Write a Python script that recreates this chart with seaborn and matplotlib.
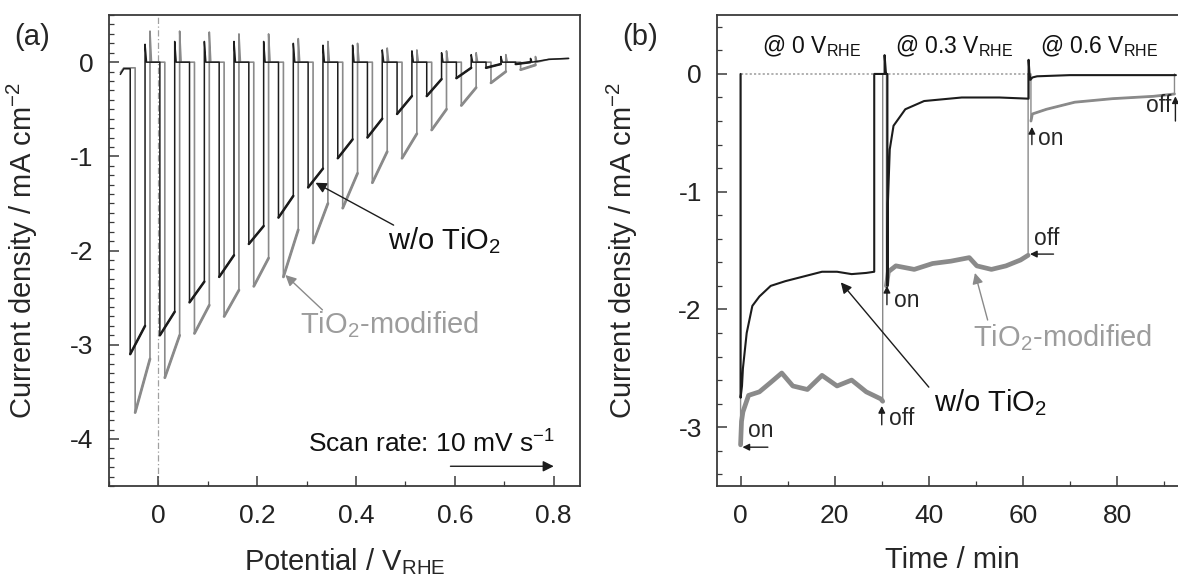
import matplotlib
matplotlib.use("Agg")
import matplotlib.pyplot as plt
from matplotlib.ticker import MultipleLocator, FixedLocator, FixedFormatter
import pandas as pd
import seaborn as sns

# ---------------- panel (a): chopped-light LSV ----------------
pulse_on_v = [-0.057, 0.003, 0.063, 0.123, 0.183, 0.243, 0.303, 0.363,
              0.423, 0.483, 0.543, 0.603, 0.663, 0.723]
light_len_v = 0.030
gray_shift_v = 0.010
black_on_j = [-3.10, -2.90, -2.55, -2.28, -1.93, -1.65, -1.33, -1.02,
              -0.80, -0.55, -0.36, -0.17, -0.06, -0.02]
black_off_j = [-2.80, -2.65, -2.33, -2.05, -1.74, -1.42, -1.13, -0.82,
               -0.60, -0.36, -0.18, -0.06, -0.02, 0.00]
gray_on_j = [-3.72, -3.35, -2.88, -2.70, -2.38, -2.28, -1.92, -1.55,
             -1.28, -1.02, -0.72, -0.46, -0.22, -0.08]
gray_off_j = [-3.15, -2.90, -2.58, -2.42, -2.08, -1.78, -1.50, -1.18,
              -0.95, -0.76, -0.50, -0.27, -0.10, -0.03]
black_spike_j = [0.19, 0.22, 0.22, 0.22, 0.22, 0.20, 0.18, 0.18,
                 0.13, 0.12, 0.10, 0.08, 0.06, 0.04]
gray_spike_j = [0.33, 0.33, 0.32, 0.30, 0.30, 0.25, 0.22, 0.20,
                0.15, 0.13, 0.12, 0.10, 0.08, 0.06]
lead_v = [-0.077, -0.070]
black_lead_j = [-0.13, -0.07]
gray_lead_j = [-0.11, -0.06]
tail_v = [0.79, 0.83]
tail_j = [0.03, 0.04]
dark_j = 0.0
xticks_a = [0, 0.2, 0.4, 0.6, 0.8]
xticklabels_a = ["0", "0.2", "0.4", "0.6", "0.8"]
yticks_a = [0, -1, -2, -3, -4]
yticklabels_a = ["0", "-1", "-2", "-3", "-4"]

# ---------------- panel (b): chronoamperometry ----------------
black_t = [0, 0, 0.3, 0.5, 1.3, 2.5, 4, 6.4, 9.5, 13.4, 17.3, 20.5, 23.6, 26.7, 28.4,
           28.4, 30.6, 30.6, 30.9, 31.2,
           31.2, 31.3, 31.7, 32.5, 35, 39, 47, 55, 61.2,
           61.2, 61.4, 61.6, 62.0, 63, 70, 92.5]
black_j = [0, -2.75, -2.65, -2.5, -2.2, -1.97, -1.89, -1.80, -1.76, -1.72, -1.68, -1.68, -1.70, -1.69, -1.68,
           0.0, 0.0, 0.16, 0.0, 0.0,
           -1.80, -1.10, -0.64, -0.44, -0.30, -0.23, -0.20, -0.20, -0.21,
           0.12, 0.0, -0.05, -0.03, -0.02, -0.01, -0.01]
gray_t_0 = [0, 0.2, 0.5, 1.7, 4, 6.4, 8.75, 11.1, 14.2, 17.3, 20.5, 23.6, 26.7, 29.8, 30.2]
gray_j_0 = [-3.15, -2.95, -2.87, -2.73, -2.70, -2.62, -2.54, -2.65, -2.68, -2.56, -2.65,
            -2.60, -2.70, -2.76, -2.78]
gray_t_03 = [31.0, 31.4, 33, 36.9, 40.8, 44.7, 48.6, 50.2, 53.3, 56.4, 59.5, 61.1]
gray_j_03 = [-1.80, -1.68, -1.63, -1.66, -1.61, -1.59, -1.56, -1.63, -1.66, -1.63, -1.58, -1.54]
gray_t_06 = [61.7, 62, 65, 71, 79, 87.7, 92.2]
gray_j_06 = [-0.40, -0.34, -0.30, -0.24, -0.21, -0.19, -0.17]
xticks_b = [0, 20, 40, 60, 80]
yticks_b = [0, -1, -2, -3]
yticklabels_b = ["0", "-1", "-2", "-3"]
potential_labels = ["@ 0 V$_{RHE}$", "@ 0.3 V$_{RHE}$", "@ 0.6 V$_{RHE}$"]
potential_label_t = [15.1, 45.3, 76.2]

BLACK = "#1c1c1c"
GRAY = "#8a8a8a"
TGRAY = "#9c9c9c"
SPINE = "#3a3a3a"

sns.set_theme(style="ticks")
plt.rcParams.update({
    "font.family": ["Liberation Sans", "DejaVu Sans"],
    "mathtext.default": "regular",
    "axes.unicode_minus": False,
    "axes.edgecolor": SPINE,
    "axes.linewidth": 1.3,
    "xtick.direction": "in",
    "ytick.direction": "in",
    "xtick.color": SPINE,
    "ytick.color": SPINE,
    "xtick.labelcolor": "#222222",
    "ytick.labelcolor": "#222222",
})


def chop_trace(shift, on_j, off_j, spike_j, lead_j):
    v, j = list(lead_v), list(lead_j)
    light_rows = []
    for k, von in enumerate(pulse_on_v):
        a = von + shift
        b = a + light_len_v
        before = lead_j[-1] if k == 0 else dark_j
        v += [a, a, b, b, b + 0.003]
        j += [before, on_j[k], off_j[k], spike_j[k], dark_j]
        light_rows += [(a, on_j[k], k), (b, off_j[k], k)]
    v += tail_v
    j += tail_j
    full = pd.DataFrame({"V": v, "J": j})
    light = pd.DataFrame(light_rows, columns=["V", "J", "seg"])
    return full, light


fig = plt.figure(figsize=(11.78, 5.8), dpi=100)
ax_a = fig.add_axes([0.0925, 0.162, 0.3998, 0.812])
ax_b = fig.add_axes([0.6087, 0.162, 0.3935, 0.812])

# ---- panel (a) ----
ax_a.axvline(0, color="#a0a0a0", lw=0.9, ls=(0, (5, 2, 1, 2)), zorder=0)
g_full, g_light = chop_trace(gray_shift_v, gray_on_j, gray_off_j, gray_spike_j, gray_lead_j)
b_full, b_light = chop_trace(0.0, black_on_j, black_off_j, black_spike_j, black_lead_j)
sns.lineplot(data=g_full, x="V", y="J", sort=False, estimator=None, ax=ax_a, color=GRAY, lw=1.2)
sns.lineplot(data=g_light, x="V", y="J", units="seg", sort=False, estimator=None, ax=ax_a,
             color=GRAY, lw=2.0)
sns.lineplot(data=b_full, x="V", y="J", sort=False, estimator=None, ax=ax_a, color=BLACK, lw=1.1)
sns.lineplot(data=b_light, x="V", y="J", units="seg", sort=False, estimator=None, ax=ax_a,
             color=BLACK, lw=1.8)

ax_a.set_xlim(-0.1, 0.853)
ax_a.set_ylim(-4.5, 0.5)
ax_a.xaxis.set_major_locator(FixedLocator(xticks_a))
ax_a.xaxis.set_major_formatter(FixedFormatter(xticklabels_a))
ax_a.xaxis.set_minor_locator(MultipleLocator(0.1))
ax_a.yaxis.set_major_locator(FixedLocator(yticks_a))
ax_a.yaxis.set_major_formatter(FixedFormatter(yticklabels_a))
ax_a.yaxis.set_minor_locator(MultipleLocator(0.1))
ax_a.set_xlabel("Potential / V$_{RHE}$", fontsize=21)
ax_a.set_ylabel("Current density / mA cm$^{-2}$", fontsize=21)

ax_a.annotate("", xy=(0.318, -1.28), xytext=(0.476, -1.73),
              arrowprops=dict(arrowstyle="-|>", color=BLACK, lw=1.0, mutation_scale=16,
                              shrinkA=0, shrinkB=0))
ax_a.text(0.465, -1.89, "w/o TiO$_2$", fontsize=21, color="#111111", va="center", ha="left")
ax_a.annotate("", xy=(0.257, -2.26), xytext=(0.332, -2.63),
              arrowprops=dict(arrowstyle="-|>", color=GRAY, lw=1.0, mutation_scale=16,
                              shrinkA=0, shrinkB=0))
ax_a.text(0.287, -2.79, "TiO$_2$-modified", fontsize=21, color=TGRAY, va="center", ha="left")
ax_a.text(0.302, -4.05, "Scan rate: 10 mV s$^{-1}$", fontsize=19, color="#111111",
          va="center", ha="left")
ax_a.annotate("", xy=(0.80, -4.29), xytext=(0.591, -4.29),
              arrowprops=dict(arrowstyle="-|>", color=BLACK, lw=1.0, mutation_scale=16,
                              shrinkA=0, shrinkB=0))

# ---- panel (b) ----
ax_b.plot([0, 61.5], [0, 0], color="#aaaaaa", lw=1.3, ls=(0, (1.2, 1.2)), zorder=0)
gray_t = [0] + gray_t_0 + [30.2] + [31.0] + gray_t_03 + [61.1] + [61.7] + gray_t_06 + [92.2]
gray_j = [0] + gray_j_0 + [0.0] + [0.0] + gray_j_03 + [0.0] + [0.0] + gray_j_06 + [0.0]
sns.lineplot(x=gray_t, y=gray_j, sort=False, estimator=None, ax=ax_b, color=GRAY, lw=1.0)
seg_df = pd.DataFrame({
    "t": gray_t_0 + gray_t_03 + gray_t_06,
    "J": gray_j_0 + gray_j_03 + gray_j_06,
    "seg": [0] * len(gray_t_0) + [1] * len(gray_t_03) + [2] * len(gray_t_06),
})
sns.lineplot(data=seg_df[seg_df.seg < 2], x="t", y="J", units="seg", sort=False,
             estimator=None, ax=ax_b, color=GRAY, lw=3.4)
sns.lineplot(data=seg_df[seg_df.seg == 2], x="t", y="J", sort=False,
             estimator=None, ax=ax_b, color=GRAY, lw=2.0)
sns.lineplot(x=black_t, y=black_j, sort=False, estimator=None, ax=ax_b, color=BLACK, lw=1.5)

ax_b.set_xlim(-5, 93.5)
ax_b.set_ylim(-3.5, 0.5)
ax_b.xaxis.set_major_locator(FixedLocator(xticks_b))
ax_b.xaxis.set_minor_locator(MultipleLocator(10))
ax_b.yaxis.set_major_locator(FixedLocator(yticks_b))
ax_b.yaxis.set_major_formatter(FixedFormatter(yticklabels_b))
ax_b.yaxis.set_minor_locator(MultipleLocator(0.2))
ax_b.set_xlabel("Time / min", fontsize=21)
ax_b.set_ylabel("Current density / mA cm$^{-2}$", fontsize=21)

for lab, tt in zip(potential_labels, potential_label_t):
    ax_b.text(tt, 0.24, lab, fontsize=16.5, ha="center", va="center", color="#111111")

small = dict(arrowstyle="-|>", color=BLACK, lw=1.0, mutation_scale=10, shrinkA=0, shrinkB=0)
ax_b.annotate("", xy=(0.4, -3.17), xytext=(5.8, -3.17), arrowprops=small)
ax_b.text(1.5, -3.03, "on", fontsize=16.5, ha="left", va="center")
ax_b.annotate("", xy=(30.0, -2.82), xytext=(30.0, -2.98), arrowprops=small)
ax_b.text(31.5, -2.93, "off", fontsize=16.5, ha="left", va="center")
ax_b.annotate("", xy=(31.1, -1.80), xytext=(31.1, -1.96), arrowprops=small)
ax_b.text(32.6, -1.92, "on", fontsize=16.5, ha="left", va="center")
ax_b.annotate("", xy=(61.5, -1.53), xytext=(66.5, -1.53), arrowprops=small)
ax_b.text(62.4, -1.40, "off", fontsize=16.5, ha="left", va="center")
ax_b.annotate("", xy=(61.9, -0.45), xytext=(61.9, -0.60), arrowprops=small)
ax_b.text(63.3, -0.55, "on", fontsize=16.5, ha="left", va="center")
ax_b.annotate("", xy=(92.4, -0.19), xytext=(92.4, -0.40), arrowprops=small)
ax_b.text(91.5, -0.27, "off", fontsize=16.5, ha="right", va="center")

ax_b.annotate("", xy=(21.3, -1.77), xytext=(40.0, -2.66),
              arrowprops=dict(arrowstyle="-|>", color=BLACK, lw=1.0, mutation_scale=16,
                              shrinkA=0, shrinkB=0))
ax_b.text(41.0, -2.79, "w/o TiO$_2$", fontsize=21, color="#111111", va="center", ha="left")
ax_b.annotate("", xy=(49.8, -1.69), xytext=(52.5, -2.09),
              arrowprops=dict(arrowstyle="-|>", color=GRAY, lw=1.0, mutation_scale=16,
                              shrinkA=0, shrinkB=0))
ax_b.text(49.4, -2.24, "TiO$_2$-modified", fontsize=21, color=TGRAY, va="center", ha="left")

for ax in (ax_a, ax_b):
    for s in ax.spines.values():
        s.set_visible(True)
        s.set_color(SPINE)
        s.set_linewidth(1.3)
    ax.tick_params(which="major", length=7, width=1.1, labelsize=19, pad=11,
                   top=False, right=False)
    ax.tick_params(which="minor", length=3.5, width=0.9, top=False, right=False)
    ax.tick_params(axis="x", which="major", pad=13)

ax_a.yaxis.set_label_coords(-0.146, 0.5)
ax_b.yaxis.set_label_coords(-0.166, 0.5)
ax_a.xaxis.set_label_coords(0.5, -0.128)
ax_b.xaxis.set_label_coords(0.507, -0.128)

fig.text(0.012, 0.936, "(a)", fontsize=21, va="center", ha="left")
fig.text(0.528, 0.936, "(b)", fontsize=21, va="center", ha="left")

fig.savefig("out.png", dpi=100)
